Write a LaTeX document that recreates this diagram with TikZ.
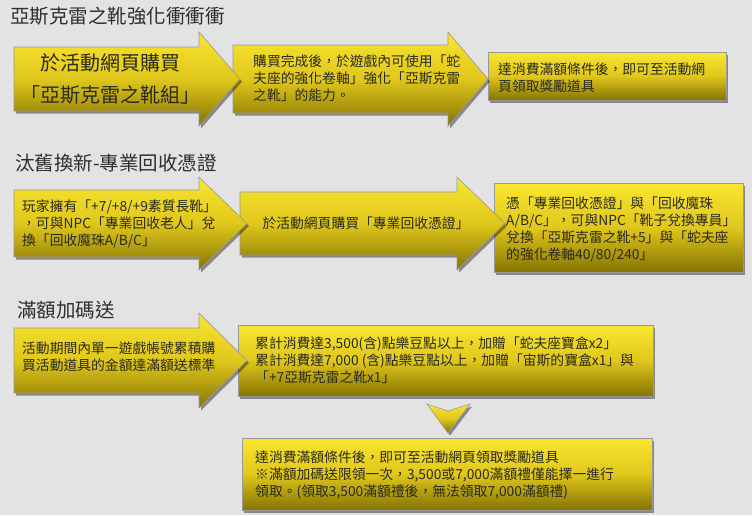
\documentclass[tikz,border=0pt]{standalone}
\usepackage{fontspec}
\setmainfont{Noto Sans CJK TC}
\usetikzlibrary{shadows}
\definecolor{bggray}{HTML}{E3E3E3}
\definecolor{goldtop}{HTML}{FAE630}
\definecolor{goldmid}{HTML}{E0C71C}
\definecolor{goldbot}{HTML}{857402}
\definecolor{inkgray}{HTML}{2A2A1E}
\definecolor{titlegray}{HTML}{2E2E2E}
\tikzset{
  gold/.style={draw=black!40, line width=0.6pt, top color=goldtop, bottom color=goldbot, middle color=goldmid,
    drop shadow={shadow xshift=2pt, shadow yshift=-2.5pt, opacity=0.4, fill=black}},
  title/.style={anchor=west, inner sep=0pt, text=titlegray, font=\fontsize{19.5}{22}\selectfont},
  txt/.style={anchor=west, inner sep=0pt, align=left, text=inkgray, font=\fontsize{13.8}{17}\selectfont},
  bigtxt/.style={inner sep=0pt, align=center, text=inkgray, font=\fontsize{20}{32}\selectfont}
}
% arrow: (left, body top, body bottom)(head base, head top, head bottom)(tip)
\def\goldarrow(#1,#2,#3)(#4,#5,#6)(#7){\draw[gold] (#1,#2) -- (#4,#2) -- (#4,#5) -- (#7,{(#2+#3)/2}) -- (#4,#6) -- (#4,#3) -- (#1,#3) -- cycle;}
\begin{document}
\begin{tikzpicture}[x=1pt,y=-1pt]
  \path[fill=bggray, use as bounding box] (0,0) rectangle (752,515);

  %%%%% SECTION 1 %%%%%
  \node[title] (titleA) at (10,16) {亞斯克雷之靴強化衝衝衝};
  \draw[gold] (488,52) rectangle (726,100);
  \goldarrow(233,45,113)(448,32,126)(488)
  \goldarrow(14,47,111)(199,32,126)(240)
  \node[bigtxt] (buyset) at (110,79) {於活動網頁購買\\「亞斯克雷之靴組」};
  \node[txt] (useitem) at (253,78.5) {購買完成後，於遊戲內可使用「蛇\\夫座的強化卷軸」強化「亞斯克雷\\之靴」的能力。};
  \node[txt] (rewardA) at (498,77.5) {達消費滿額條件後，即可至活動網\\頁領取獎勵道具};

  %%%%% SECTION 2 %%%%%
  \node[title] (titleB) at (15,163) {汰舊換新-專業回收憑證};
  \draw[gold] (494,183) rectangle (743,272);
  \goldarrow(240,192,255)(457,177,270)(505)
  \goldarrow(14,190,257)(199,177,270)(247)
  \node[txt] (oldboots) at (22,224) {玩家擁有「+7/+8/+9素質長靴」\\，可與NPC「專業回收老人」兌\\換「回收魔珠A/B/C」};
  \node[txt, anchor=center] (buycert) at (366,223) {於活動網頁購買「專業回收憑證」};
  \node[txt] (exchange) at (506,229) {憑「專業回收憑證」與「回收魔珠\\A/B/C」，可與NPC「靴子兌換專員」\\兌換「亞斯克雷之靴+5」與「蛇夫座\\的強化卷軸40/80/240」};

  %%%%% SECTION 3 %%%%%
  \node[title] (titleC) at (17,310) {滿額加碼送};
  \draw[gold] (242,438) rectangle (652,510);
  \draw[gold] (427,404) -- (448,411) -- (470,404) -- (448,433) -- cycle;
  \draw[gold] (238,325) rectangle (653,396);
  \goldarrow(14,328,393)(199,313,408)(247)
  \node[txt] (spend) at (22,357) {活動期間內單一遊戲帳號累積購\\買活動道具的金額達滿額送標準};
  \node[txt] (gifts) at (255,360) {累計消費達3,500(含)點樂豆點以上，加贈「蛇夫座寶盒x2」\\累計消費達7,000 (含)點樂豆點以上，加贈「宙斯的寶盒x1」與\\「+7亞斯克雷之靴x1」};
  \node[txt] (rewardC) at (255,475) {達消費滿額條件後，即可至活動網頁領取獎勵道具\\※滿額加碼送限領一次，3,500或7,000滿額禮僅能擇一進行\\領取。(領取3,500滿額禮後，無法領取7,000滿額禮)};
\end{tikzpicture}
\end{document}
